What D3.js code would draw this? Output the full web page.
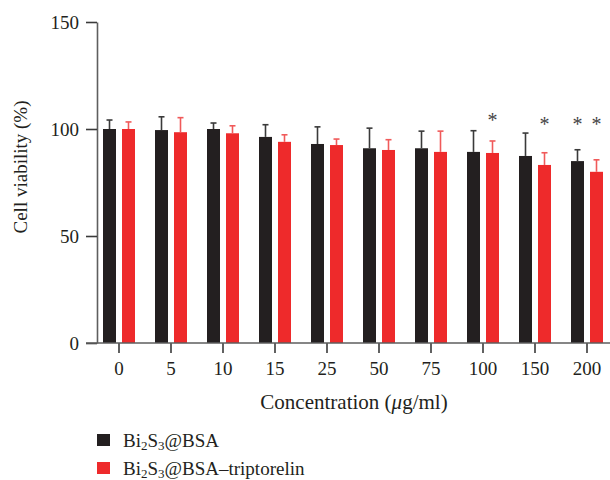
<!DOCTYPE html>
<html>
<head>
<meta charset="utf-8">
<script src="https://cdn.jsdelivr.net/npm/d3@7"></script>
<style>
  body { margin: 0; background: #fff; }
  text { font-family: "Liberation Serif", "DejaVu Serif", serif; fill: #231f20; }
</style>
</head>
<body>
<div id="chart"></div>
<script>
var width = 610,
    height = 480;

// concentrations (ug/ml)
var concentrations = ["0", "5", "10", "15", "25", "50", "75", "100", "150", "200"];
var seriesNames = ["Bi2S3@BSA", "Bi2S3@BSA-triptorelin"];

var bsaMean = [100, 99.5, 100, 96.3, 93, 91, 91, 89.3, 87.4, 85];
var bsaErr  = [4.2, 6.2, 2.8, 5.7, 8, 9.4, 8, 9.9, 10.7, 5.3];
var tripMean = [100, 98.5, 98, 94, 92.5, 90.2, 89.3, 88.8, 83.2, 80];
var tripErr  = [3.3, 6.8, 3.5, 3.3, 2.8, 4.8, 9.7, 5.6, 5.7, 5.6];

// significance marks: concentration, series index, level they sit at
var sigConc = ["100", "150", "200", "200"];
var sigSeries = [1, 1, 0, 1];
var sigLevel = [106.5, 105, 105, 105];

var yTicks = [0, 50, 100, 150];

var colors = ["#231f20", "#ee2a2b"];
var errColors = ["#3a3a3a", "#f05a5a"];

var svg = d3.select("#chart")
  .append("svg")
  .attr("width", width)
  .attr("height", height);

var y = d3.scaleLinear().domain([0, 150]).range([343, 22]);

var x = d3.scaleBand()
  .domain(concentrations)
  .range([93, 613])
  .paddingInner(0)
  .paddingOuter(0);

var x1 = d3.scaleBand()
  .domain([0, 1])
  .range([-16, 16])
  .paddingInner(6 / 19);

var rows = concentrations.map(function(c, i) {
  return [
    { conc: c, s: 0, v: bsaMean[i], e: bsaErr[i] },
    { conc: c, s: 1, v: tripMean[i], e: tripErr[i] }
  ];
});
var flat = d3.merge(rows);

function cx(d) { return x(d.conc) + x.bandwidth() / 2; }

// bars
svg.append("g")
  .selectAll("rect")
  .data(flat)
  .enter().append("rect")
    .attr("x", function(d) { return cx(d) + x1(d.s); })
    .attr("y", function(d) { return y(d.v); })
    .attr("width", x1.bandwidth())
    .attr("height", function(d) { return y(0) - y(d.v); })
    .attr("fill", function(d) { return colors[d.s]; });

// error bars (upper only)
var eb = svg.append("g")
  .selectAll("g")
  .data(flat)
  .enter().append("g")
    .attr("stroke", function(d) { return errColors[d.s]; })
    .attr("stroke-width", 1.6);

eb.append("line")
  .attr("x1", function(d) { return cx(d) + x1(d.s) + x1.bandwidth() / 2; })
  .attr("x2", function(d) { return cx(d) + x1(d.s) + x1.bandwidth() / 2; })
  .attr("y1", function(d) { return y(d.v); })
  .attr("y2", function(d) { return y(d.v + d.e); });

eb.append("line")
  .attr("x1", function(d) { return cx(d) + x1(d.s) + x1.bandwidth() / 2 - 3; })
  .attr("x2", function(d) { return cx(d) + x1(d.s) + x1.bandwidth() / 2 + 3; })
  .attr("y1", function(d) { return y(d.v + d.e); })
  .attr("y2", function(d) { return y(d.v + d.e); });

// asterisks
svg.append("g")
  .selectAll("text")
  .data(sigConc.map(function(c, i) { return { conc: c, s: sigSeries[i], lv: sigLevel[i] }; }))
  .enter().append("text")
    .attr("x", function(d) { return cx(d) + x1(d.s) + x1.bandwidth() / 2; })
    .attr("y", function(d) { return y(d.lv); })
    .attr("dy", "0.62em")
    .attr("text-anchor", "middle")
    .style("font-size", "20px")
    .style("fill", "#444")
    .text("*");

// y axis
var yAxis = svg.append("g")
  .attr("transform", "translate(97,0)")
  .call(d3.axisLeft(y).tickValues(yTicks).tickSize(11).tickPadding(7).tickSizeOuter(0));

yAxis.select(".domain").attr("stroke", "#5e5e5e").attr("stroke-width", 1.6);
yAxis.selectAll(".tick line").attr("stroke", "#3a3a3a").attr("stroke-width", 1.6);
yAxis.selectAll(".tick text")
  .style("font-size", "19px")
  .style("font-family", "'Liberation Serif', serif")
  .attr("fill", "#231f20");

// x axis
var xAxis = svg.append("g")
  .attr("transform", "translate(0,343)")
  .call(d3.axisBottom(x).tickSize(10).tickPadding(9).tickSizeOuter(0));

xAxis.select(".domain").remove();
xAxis.append("line")
  .attr("x1", 86).attr("x2", 610)
  .attr("y1", 0).attr("y2", 0)
  .attr("stroke", "#5e5e5e").attr("stroke-width", 1.6);
xAxis.selectAll(".tick line").attr("stroke", "#3a3a3a").attr("stroke-width", 1.6);
xAxis.selectAll(".tick text")
  .style("font-size", "19px")
  .style("font-family", "'Liberation Serif', serif")
  .attr("fill", "#231f20");

// axis titles
var xt = svg.append("text")
  .attr("x", 354)
  .attr("y", 409)
  .attr("text-anchor", "middle")
  .style("font-size", "21px");
xt.append("tspan").text("Concentration (");
xt.append("tspan").style("font-style", "italic").text("\u03bc");
xt.append("tspan").text("g/ml)");

svg.append("text")
  .attr("transform", "translate(27,167) rotate(-90)")
  .attr("text-anchor", "middle")
  .style("font-size", "19px")
  .text("Cell viability (%)");

// legend
var legend = svg.append("g")
  .selectAll("g")
  .data(seriesNames)
  .enter().append("g")
    .attr("transform", function(d, i) { return "translate(97," + (434 + i * 28) + ")"; });

legend.append("rect")
  .attr("width", 13)
  .attr("height", 12)
  .attr("fill", function(d, i) { return colors[i]; });

var lt = legend.append("text")
  .attr("x", 26)
  .attr("y", 13)
  .style("font-size", "19px");

lt.each(function(d, i) {
  var t = d3.select(this);
  t.append("tspan").text("Bi");
  t.append("tspan").attr("dy", 3).style("font-size", "13px").text("2");
  t.append("tspan").attr("dy", -3).text("S");
  t.append("tspan").attr("dy", 3).style("font-size", "13px").text("3");
  t.append("tspan").attr("dy", -3).text(i === 0 ? "@BSA" : "@BSA\u2013triptorelin");
});
</script>
</body>
</html>
